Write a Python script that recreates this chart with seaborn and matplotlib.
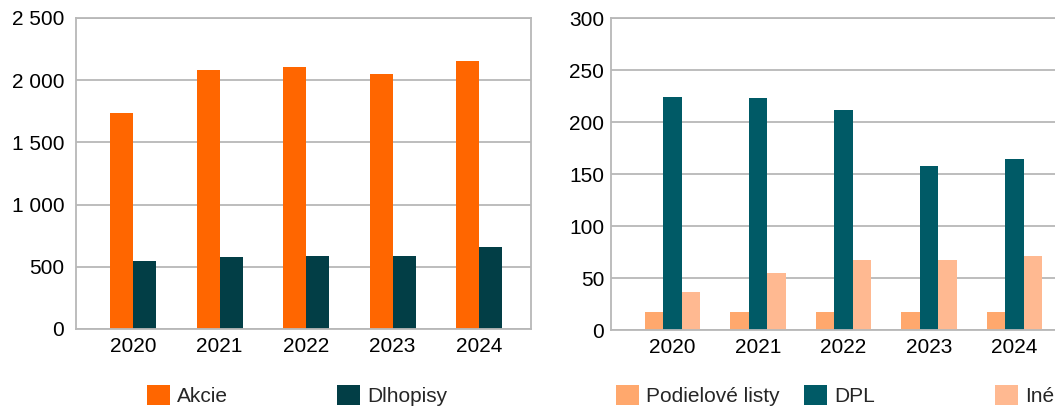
"""
Two grouped bar charts: Akcie / Dlhopisy and Podielové listy / DPL / Iné, 2020-2024.
"""
import matplotlib
matplotlib.use("Agg")
import matplotlib.pyplot as plt
from matplotlib.patches import Patch
from matplotlib.ticker import FuncFormatter, MultipleLocator
import pandas as pd
import seaborn as sns

years = ["2020", "2021", "2022", "2023", "2024"]

# left chart
akcie = [1736, 2082, 2106, 2050, 2154]
dlhopisy = [547, 579, 587, 587, 659]

# right chart
podielove_listy = [17.3, 17.3, 17.3, 17.3, 17.3]
dpl = [224, 223, 211.5, 157.7, 164.4]
ine = [36.6, 54.8, 67.5, 67.5, 71.4]

left_series = ["Akcie", "Dlhopisy"]
right_series = ["Podielové listy", "DPL", "Iné"]
left_colors = ["#ff6600", "#023e46"]
right_colors = ["#ffa86d", "#005a66", "#ffb991"]

W, H = 1055, 407
FS = 15
GRAY = "#b8b8b8"


def long_frame(names, columns):
    rows = []
    for name, vals in zip(names, columns):
        for y, v in zip(years, vals):
            rows.append({"rok": y, "seria": name, "hodnota": v})
    return pd.DataFrame(rows)


df_left = long_frame(left_series, [akcie, dlhopisy])
df_right = long_frame(right_series, [podielove_listy, dpl, ine])

sns.set_style("white")
plt.rcParams["font.family"] = ["Liberation Sans", "DejaVu Sans"]

fig = plt.figure(figsize=(W / 100, H / 100), dpi=100)
ax1 = fig.add_axes([76 / W, 1 - 329 / H, (531 - 76) / W, (329 - 18) / H])
ax2 = fig.add_axes([611 / W, 1 - 330 / H, (1076 - 611) / W, (330 - 18) / H])

sns.barplot(data=df_left, x="rok", y="hodnota", hue="seria", palette=left_colors,
            width=0.53, saturation=1, linewidth=0, legend=False, ax=ax1)
sns.barplot(data=df_right, x="rok", y="hodnota", hue="seria", palette=right_colors,
            width=0.65, saturation=1, linewidth=0, legend=False, ax=ax2)

ax1.set_ylim(0, 2500)
ax1.set_xlim(-0.66, 4.60)
ax1.yaxis.set_major_locator(MultipleLocator(500))
ax1.yaxis.set_major_formatter(FuncFormatter(lambda v, p: f"{int(v):,}".replace(",", " ")))

ax2.set_ylim(0, 300)
ax2.set_xlim(-0.72, 4.72)
ax2.yaxis.set_major_locator(MultipleLocator(50))

for ax, ypad in [(ax1, 8.5), (ax2, 5.0)]:
    ax.set_xlabel("")
    ax.set_ylabel("")
    ax.set_axisbelow(True)
    ax.yaxis.grid(True, color=GRAY, linewidth=1.3)
    ax.xaxis.grid(False)
    for s in ax.spines.values():
        s.set_visible(True)
        s.set_color(GRAY)
        s.set_linewidth(1.3)
    ax.tick_params(axis="x", length=0, pad=5.5, labelsize=FS, colors="black")
    ax.tick_params(axis="y", length=0, pad=ypad, labelsize=FS, colors="black")

# legend entries sit on a fixed grid under each chart
fs_px = FS * 100 / 72
legend_items = [
    ("Akcie", left_colors[0], 147),
    ("Dlhopisy", left_colors[1], 337),
    ("Podielové listy", right_colors[0], 616),
    ("DPL", right_colors[1], 804),
    ("Iné", right_colors[2], 995),
]
for label, color, x in legend_items:
    fig.legend(handles=[Patch(facecolor=color, edgecolor="none")], labels=[label],
               loc="center left", bbox_to_anchor=(x / W, 1 - 395.5 / H),
               frameon=False, borderpad=0, borderaxespad=0, fontsize=FS,
               handlelength=23 / fs_px, handleheight=23 / fs_px,
               handletextpad=7 / fs_px)

fig.savefig("out.png", dpi=100)
plt.close(fig)
